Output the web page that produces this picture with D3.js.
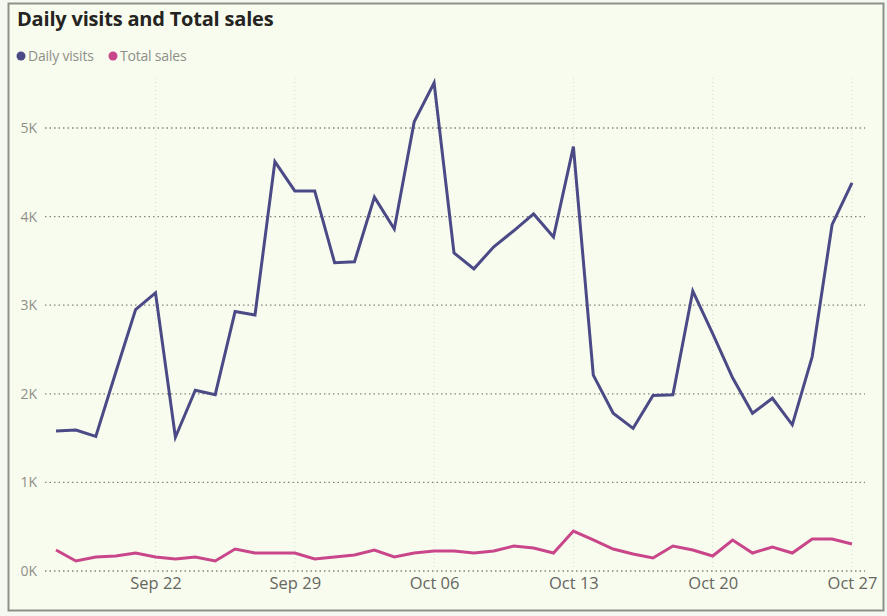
<!DOCTYPE html>
<html>
<head>
<meta charset="utf-8">
<script src="https://cdn.jsdelivr.net/npm/d3@7"></script>
<style>
  html, body { margin: 0; padding: 0; background: #f5f8f1; }
  svg { display: block; }
</style>
</head>
<body>
<svg id="chart" width="887" height="616"></svg>
<script>
// Daily series, Sep 17 – Oct 27
const startDate = "2019-09-17";
const dailyVisits = [
  1580, 1590, 1520, 2240, 2950, 3140, 1510, 2040, 1990, 2930, 2890, 4620, 4290, 4290,
  3480, 3490, 4220, 3860, 5070, 5510, 3590, 3410, 3660, 3840, 4030, 3770, 4790, 2210,
  1780, 1610, 1980, 1990, 3160, 2680, 2180, 1780, 1950, 1650, 2420, 3910, 4380
];
const totalSales = [
  237, 113, 158, 169, 203, 158, 135, 158, 113, 248, 203, 203, 203, 135,
  158, 180, 237, 158, 203, 226, 226, 203, 226, 282, 260, 203, 451, 350,
  248, 192, 147, 282, 237, 169, 350, 203, 271, 203, 361, 361, 305
];
const yTicks = [0, 1000, 2000, 3000, 4000, 5000];
const xTickLabels = ["Sep 22", "Sep 29", "Oct 06", "Oct 13", "Oct 20", "Oct 27"];
const xTickDates = ["2019-09-22", "2019-09-29", "2019-10-06", "2019-10-13", "2019-10-20", "2019-10-27"];
const seriesNames = ["Daily visits", "Total sales"];
const seriesColors = ["#4b4a86", "#c9468a"];

const parse = d3.utcParse("%Y-%m-%d");
const day0 = parse(startDate);
const dates = dailyVisits.map((_, i) => d3.utcDay.offset(day0, i));
const rows = dates.map((d, i) => ({ date: d, visits: dailyVisits[i], sales: totalSales[i] }));

const svg = d3.select("#chart");
const font = "'Open Sans', 'Noto Sans', sans-serif";

// card
svg.append("rect").attr("x", 8.5).attr("y", 3.5).attr("width", 875).attr("height", 607)
  .attr("fill", "#f8fcee").attr("stroke", "#8c9189").attr("stroke-width", 2);

const x = d3.scaleUtc().domain([dates[0], dates[dates.length - 1]]).range([56, 852]);
const y = d3.scaleLinear().domain([0, 5000]).range([571, 128]);

// vertical grid (faint)
svg.append("g").selectAll("line").data(xTickDates.map(parse)).join("line")
  .attr("x1", d => x(d)).attr("x2", d => x(d))
  .attr("y1", 78).attr("y2", 571)
  .attr("stroke", "#d6dccb").attr("stroke-width", 1).attr("stroke-dasharray", "1,3");

// horizontal grid
svg.append("g").selectAll("line").data(yTicks).join("line")
  .attr("x1", 45).attr("x2", 865)
  .attr("y1", d => y(d)).attr("y2", d => y(d))
  .attr("stroke", "#85857c").attr("stroke-width", 1.3).attr("stroke-dasharray", "1.5,3");

// y axis labels
const yAxis = d3.axisLeft(y).tickValues(yTicks).tickFormat(d => (d / 1000) + "K").tickSize(0).tickPadding(0);
const gy = svg.append("g").attr("transform", "translate(37,0)").call(yAxis);
gy.select(".domain").remove();
gy.selectAll("text").attr("font-family", font).attr("font-size", 14).attr("fill", "#8f8f8a");

// x axis labels
const xAxis = d3.axisBottom(x).tickValues(xTickDates.map(parse))
  .tickFormat((d, i) => xTickLabels[i]).tickSize(0).tickPadding(0);
const gx = svg.append("g").attr("transform", "translate(0,577)").call(xAxis);
gx.select(".domain").remove();
gx.selectAll("text").attr("font-family", font).attr("font-size", 16.5).attr("fill", "#666662");

// lines
const lineVisits = d3.line().x(d => x(d.date)).y(d => y(d.visits));
const lineSales = d3.line().x(d => x(d.date)).y(d => y(d.sales));
svg.append("path").datum(rows).attr("d", lineSales)
  .attr("fill", "none").attr("stroke", seriesColors[1]).attr("stroke-width", 3)
  .attr("stroke-linejoin", "miter");
svg.append("path").datum(rows).attr("d", lineVisits)
  .attr("fill", "none").attr("stroke", seriesColors[0]).attr("stroke-width", 3)
  .attr("stroke-linejoin", "miter");

// title
svg.append("text").attr("x", 17).attr("y", 26).text("Daily visits and Total sales")
  .attr("font-family", font).attr("font-weight", 700).attr("font-size", 20)
  .attr("fill", "#252423").attr("letter-spacing", -0.2);

// legend
const legend = svg.append("g").attr("transform", "translate(0,56)");
const legendX = [21, 113];
seriesNames.forEach((name, i) => {
  legend.append("circle").attr("cx", legendX[i]).attr("cy", 0).attr("r", 4.5).attr("fill", seriesColors[i]);
  legend.append("text").attr("x", legendX[i] + 7).attr("y", 5).text(name)
    .attr("font-family", font).attr("font-size", 14).attr("fill", "#8f8f8a")
    .attr("letter-spacing", -0.2);
});
</script>
</body>
</html>
